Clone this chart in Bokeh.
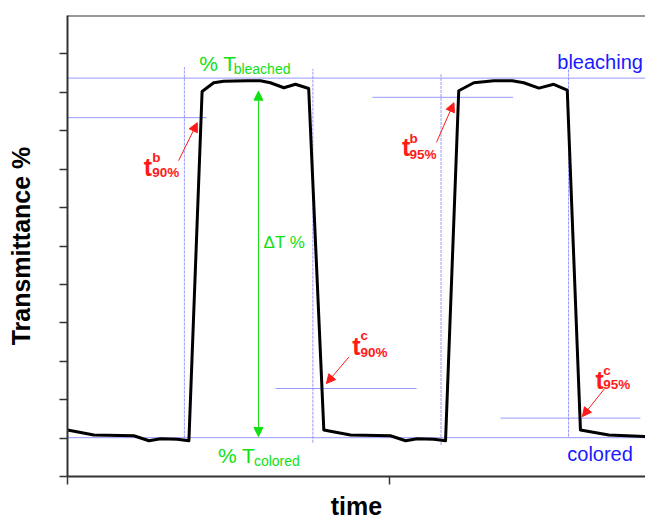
from bokeh.plotting import figure
from bokeh.models import ColumnDataSource, Arrow, NormalHead, Span
from bokeh.core.properties import value
from bokeh.embed import file_html
from bokeh.resources import INLINE

# ---------------- data ----------------
time = [0, 8.2, 20.6, 25.3, 28.9, 34.1, 37.7, 41.8, 45.4, 48.5, 55.8, 59.9, 63.0,
        67.2, 70.8, 74.9, 79.6, 87.9, 100.3, 105.0, 108.6, 113.8, 117.4, 121.5,
        126.2, 132.4, 138.1, 141.7, 146.4, 151.0, 155.2, 159.3, 168.1, 179.5]
transmittance = [1.21, 1.08, 1.06, 0.93, 0.98, 0.97, 0.93, 10.02, 10.25, 10.29,
                 10.30, 10.30, 10.25, 10.12, 10.21, 10.10, 1.21, 1.08, 1.06, 0.93,
                 0.98, 0.97, 0.93, 10.04, 10.25, 10.30, 10.30, 10.25, 10.11, 10.21,
                 10.06, 1.21, 1.08, 1.04]

x_ticks = [0, 100]
y_ticks = list(range(0, 12))
x_max = 179.5
y_max = 12

T_bleached = 10.37
T_colored = 1.01

# guide lines (blue): horizontal levels and time markers
hguide_y = [T_bleached, T_colored, 9.34, 9.87, 2.29, 1.52]
hguide_x0 = [0, 0, 0, 94.7, 64.6, 134.5]
hguide_x1 = [x_max, x_max, 43.2, 138.4, 108.4, 177.9]
vguide_x = [36.3, 76.2, 116.0, 155.6]
vguide_y0 = [0.91, 0.88, 0.82, 1.04]
vguide_y1 = [10.66, 10.61, 10.47, 10.64]

# red response-time annotations
rt_main = ["t", "t", "t", "t"]
rt_sup = ["b", "b", "c", "c"]
rt_sub = ["90%", "95%", "90%", "95%"]
rt_x = [23.7, 103.9, 88.4, 164.0]
rt_y = [7.92, 8.44, 3.27, 2.38]
rt_sx = [26.3, 106.2, 91.0, 166.4]
rt_sup_y = [8.18, 8.66, 3.55, 2.64]
rt_sub_y = [7.79, 8.25, 3.10, 2.27]
arrow_x0 = [34.5, 114.6, 87.4, 166.8]
arrow_y0 = [8.22, 8.70, 3.11, 2.29]
arrow_x1 = [40.3, 120.0, 80.4, 159.9]
arrow_y1 = [9.21, 9.73, 2.42, 1.56]

# green delta-T annotation
dT_x = 59.3
dT_y0 = 1.04
dT_y1 = 10.03

FONT = "Liberation Sans"
GREEN = "#11e011"
RED = "#ff1a1a"
BLUE = "#1a1aff"
GUIDE = "#8080ff"
TXT = dict(text_font=value(FONT), text_baseline="alphabetic", text_align="left", y_offset=-5)

p = figure(width=645, height=522, x_range=(0, x_max), y_range=(0, y_max),
           output_backend="svg", toolbar_location=None,
           min_border_left=67, min_border_right=0, min_border_top=15,
           min_border_bottom=45)
p.grid.visible = False
p.outline_line_color = None
p.background_fill_color = "white"
p.border_fill_color = "white"

for ax in (p.xaxis[0], p.yaxis[0]):
    ax.axis_line_width = 2
    ax.axis_line_color = "#333333"
    ax.major_tick_line_color = "#333333"
    ax.major_tick_line_width = 1.5
    ax.major_tick_out = 8
    ax.major_tick_in = 0
    ax.minor_tick_line_color = None
    ax.major_label_text_font_size = "1px"
    ax.major_label_standoff = 0
    ax.major_label_text_color = None
    ax.axis_label_text_font = FONT
    ax.axis_label_text_font_style = "bold"
    ax.axis_label_text_font_size = "25px"
    ax.axis_label_text_color = "black"
p.xaxis.ticker = x_ticks
p.yaxis.ticker = y_ticks
p.xaxis.major_label_overrides = {t: "" for t in x_ticks}
p.yaxis.major_label_overrides = {t: "" for t in y_ticks}
p.xaxis.axis_label = "time"
p.yaxis.axis_label = "Transmittance %"
p.xaxis.axis_label_standoff = 7
p.yaxis.axis_label_standoff = 25

top = Span(location=y_max, dimension="width", line_color="#333333", line_width=2)
p.add_layout(top)

# guides
p.segment(x0=hguide_x0, y0=hguide_y, x1=hguide_x1, y1=hguide_y,
          line_color=GUIDE, line_width=1, line_alpha=0.8)
p.segment(x0=vguide_x, y0=vguide_y0, x1=vguide_x, y1=vguide_y1,
          line_color=GUIDE, line_width=1, line_alpha=0.8, line_dash="3 1")

# main curve
p.line(time, transmittance, line_color="black", line_width=3, line_join="round")

# red arrows
asrc = ColumnDataSource(dict(x0=arrow_x0, y0=arrow_y0, x1=arrow_x1, y1=arrow_y1))
p.add_layout(Arrow(x_start="x0", y_start="y0", x_end="x1", y_end="y1", source=asrc,
                   line_color=RED, line_width=1,
                   end=NormalHead(size=9, fill_color=RED, line_color=RED, line_width=1)))

# green double arrow
p.add_layout(Arrow(x_start=dT_x, y_start=dT_y0, x_end=dT_x, y_end=dT_y1,
                   line_color=GREEN, line_width=1,
                   start=NormalHead(size=9, fill_color=GREEN, line_color=GREEN, line_width=1),
                   end=NormalHead(size=9, fill_color=GREEN, line_color=GREEN, line_width=1)))

# red labels
p.text(x=rt_x, y=rt_y, text=rt_main, text_font_style="bold",
       text_font_size="25px", text_color=RED, **TXT)
p.text(x=rt_sx, y=rt_sup_y, text=rt_sup, text_font_style="bold",
       text_font_size="13.5px", text_color=RED, **TXT)
p.text(x=rt_sx, y=rt_sub_y, text=rt_sub, text_font_style="bold",
       text_font_size="13.5px", text_color=RED, **TXT)

# green labels
p.text(x=[40.9, 46.7], y=[10.62, 0.415], text=["% T", "% T"],
       text_font_size="21px", text_color=GREEN, **TXT)
p.text(x=[51.6, 57.9], y=[10.47, 0.278], text=["bleached", "colored"],
       text_font_size="14px", text_color=GREEN, **TXT)
p.text(x=[60.9], y=[5.95], text=["ΔT %"],
       text_font_size="17px", text_color=GREEN, **TXT)

# blue labels
p.text(x=[152.1, 155.2], y=[10.65, 0.45], text=["bleaching", "colored"],
       text_font_size="20px", text_color=BLUE, **TXT)

open("out.html", "w").write(file_html(p, INLINE))
